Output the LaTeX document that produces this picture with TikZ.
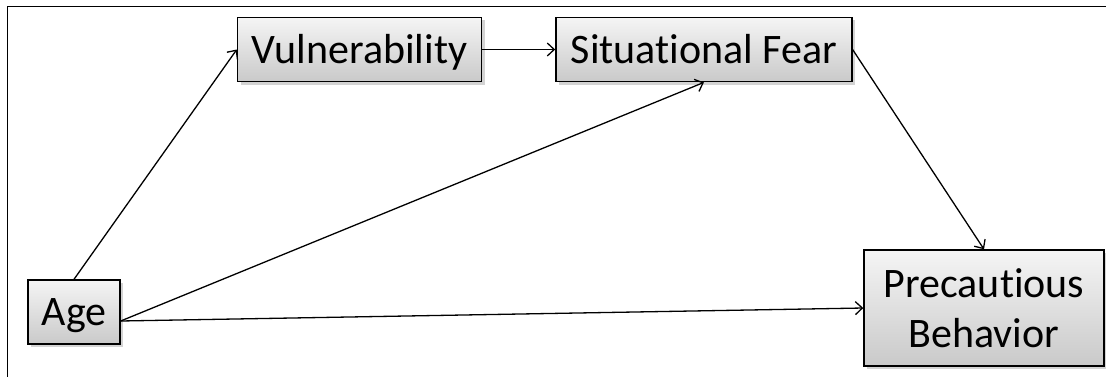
\documentclass[tikz,border=0pt]{standalone}
\usepackage{fontspec}
\setmainfont{Carlito}[Ligatures=NoCommon]
\usetikzlibrary{
  arrows.meta,
  shadows
}

\begin{document}
\begin{tikzpicture}[
  x=1pt, y=1pt,
  >={Straight Barb[length=7pt,width=13pt]},
  factor/.style={
    draw=black, line width=1.4pt,
    top color=gray!8, bottom color=gray!42,
    drop shadow={shadow xshift=3pt, shadow yshift=-3pt, opacity=0.35},
    inner sep=0pt, align=center,
    font=\fontsize{42}{50}\selectfont
  },
  oneline/.style={text height=27pt, text depth=0pt},
  link/.style={->, line width=1.3pt}
]
\useasboundingbox (0,0) rectangle (1106,376);
% frame (cut off at right and bottom)
\draw[line width=1.6pt] (7.3,-10) -- (7.3,369.3) -- (1120,369.3);

\node[factor, oneline, minimum width=92pt, minimum height=64pt] (age) at (74,64) {Age};
\node[factor, oneline, minimum width=244pt, minimum height=64.4pt] (vuln) at (359.5,326.5) {Vulnerability};
\node[factor, oneline, minimum width=296pt, minimum height=64.4pt] (fear) at (703.9,326.5) {Situational Fear};
\node[factor, minimum width=240pt, minimum height=116pt] (behav) at (984,68) {Precautious\\Behavior};

\draw[link] (age.north) -- (vuln.west);
\draw[link] (vuln.east) -- (fear.west);
\draw[link] ([yshift=-9pt]age.east) -- (fear.south);
\draw[link] ([yshift=-9pt]age.east) -- (behav.west);
\draw[link] (fear.east) -- (behav.north);
\end{tikzpicture}
\end{document}
